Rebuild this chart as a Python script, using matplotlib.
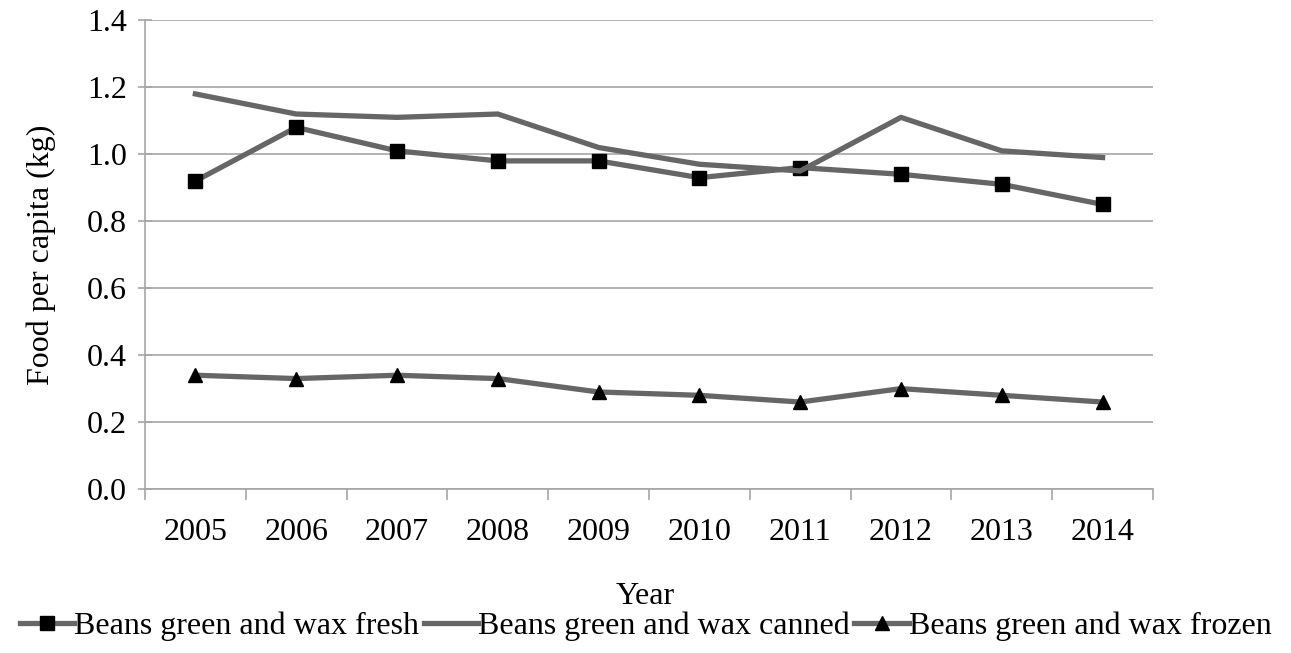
import matplotlib.pyplot as plt
import numpy as np

years = ['2005', '2006', '2007', '2008', '2009', '2010', '2011', '2012', '2013', '2014']
fresh = [0.92, 1.08, 1.01, 0.98, 0.98, 0.93, 0.96, 0.94, 0.91, 0.85]
canned = [1.18, 1.12, 1.11, 1.12, 1.02, 0.97, 0.95, 1.11, 1.01, 0.99]
frozen = [0.34, 0.33, 0.34, 0.33, 0.29, 0.28, 0.26, 0.30, 0.28, 0.26]

plt.rcParams['font.family'] = ['Liberation Serif', 'DejaVu Serif']

fig = plt.figure(figsize=(12.91, 6.53), dpi=100)
ax = fig.add_axes([0.1123, 0.251, 0.7808, 0.718])

x = np.arange(len(years))
line_col = '#666666'
grid_col = '#a6a6a6'
fs = 23

ax.plot(x, fresh, color=line_col, lw=3.8, marker='s', ms=10,
        mfc='black', mec='black', label='Beans green and wax fresh', zorder=3)
ax.plot(x, canned, color=line_col, lw=3.8, label='Beans green and wax canned', zorder=3)
ax.plot(x, frozen, color=line_col, lw=3.8, marker='^', ms=10,
        mfc='black', mec='black', label='Beans green and wax frozen', zorder=3)

ax.set_xlim(-0.5, len(years) - 0.5)
ax.set_ylim(0, 1.4)
ax.set_yticks(np.arange(0, 1.41, 0.2))
ax.set_yticklabels([f'{v:.1f}' for v in np.arange(0, 1.41, 0.2)])
ax.set_xticks(x)
ax.set_xticklabels(years)
ax.set_xticks(np.arange(-0.5, len(years), 1.0), minor=True)
ax.tick_params(axis='x', which='major', length=0, pad=21, labelsize=fs)
ax.tick_params(axis='x', which='minor', length=8, color=grid_col, width=1.2)
ax.tick_params(axis='y', direction='inout', length=10, color=grid_col, width=1.2,
               labelsize=fs, pad=8)

ax.yaxis.grid(True, color=grid_col, lw=1.2)
ax.set_axisbelow(True)
for s in ['top', 'right']:
    ax.spines[s].set_visible(False)
for s in ['left', 'bottom']:
    ax.spines[s].set_color(grid_col)
    ax.spines[s].set_linewidth(1.2)

ax.set_ylabel('Food per capita (kg)', fontsize=fs, labelpad=22)
fig.text(0.5, 1 - 597 / 653, 'Year', ha='center', va='center', fontsize=fs)

fig.legend(loc='center', bbox_to_anchor=(0.5, 1 - 626 / 653), ncol=3, frameon=False,
           fontsize=fs, handlelength=1.7, handletextpad=0.0, columnspacing=0.15,
           borderaxespad=0.0, borderpad=0.0)

fig.savefig('out.png', dpi=100)
